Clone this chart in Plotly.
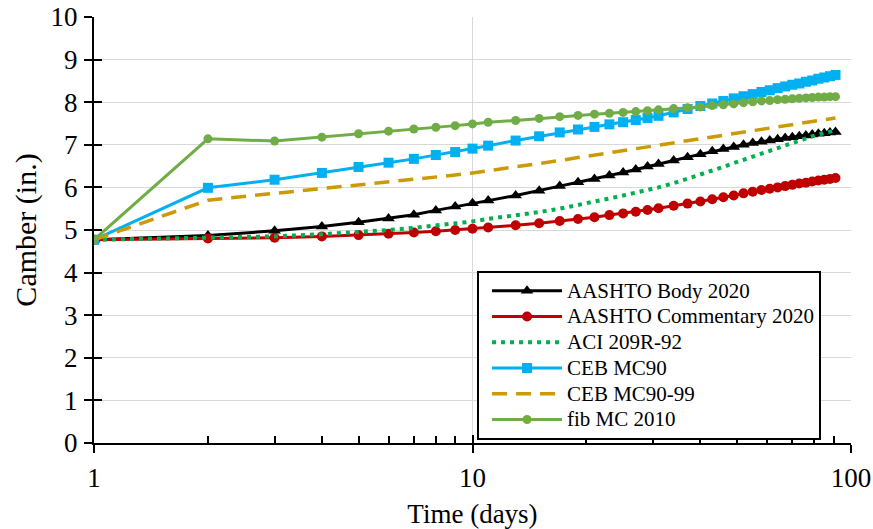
import plotly.graph_objects as go

days = [1, 2, 3, 4, 5, 6, 7, 8, 9, 10,
        11, 13, 15, 17, 19, 21, 23, 25, 27, 29, 31,
        34, 37, 40, 43, 46, 49, 52, 55, 58, 61, 64, 67, 70, 73, 76, 79, 82, 85, 88, 91]

aashto_body = [4.77, 4.87, 4.98, 5.08, 5.18, 5.27, 5.36, 5.46, 5.55, 5.63,
               5.69, 5.81, 5.92, 6.03, 6.12, 6.20, 6.28, 6.35, 6.42, 6.49, 6.55,
               6.63, 6.71, 6.78, 6.85, 6.90, 6.95, 7.00, 7.04, 7.07, 7.10, 7.13, 7.16, 7.18, 7.20, 7.22, 7.24, 7.26, 7.27, 7.29, 7.30]

aashto_comm = [4.77, 4.80, 4.82, 4.85, 4.88, 4.91, 4.94, 4.97, 5.00, 5.03,
               5.06, 5.11, 5.16, 5.21, 5.26, 5.30, 5.35, 5.39, 5.43, 5.47, 5.51,
               5.57, 5.62, 5.67, 5.72, 5.77, 5.81, 5.86, 5.90, 5.94, 5.97, 6.00, 6.03, 6.06, 6.09, 6.11, 6.14, 6.16, 6.18, 6.20, 6.22]

aci_209 = [4.77, 4.81, 4.85, 4.90, 4.95, 5.00, 5.05, 5.10, 5.15, 5.20,
           5.26, 5.34, 5.42, 5.50, 5.58, 5.66, 5.74, 5.81, 5.87, 5.94, 6.00,
           6.10, 6.20, 6.30, 6.39, 6.48, 6.57, 6.65, 6.73, 6.80, 6.87, 6.93, 6.99, 7.05, 7.10, 7.15, 7.20, 7.24, 7.28, 7.31, 7.34]

ceb_mc90 = [4.77, 5.99, 6.18, 6.34, 6.48, 6.58, 6.67, 6.76, 6.83, 6.91,
            6.98, 7.10, 7.20, 7.29, 7.36, 7.42, 7.48, 7.53, 7.58, 7.63, 7.68,
            7.76, 7.84, 7.91, 7.97, 8.03, 8.09, 8.14, 8.19, 8.24, 8.28, 8.33, 8.37, 8.41, 8.44, 8.48, 8.51, 8.55, 8.58, 8.61, 8.64]

ceb_mc90_99 = [4.77, 5.70, 5.86, 5.97, 6.05, 6.12, 6.18, 6.24, 6.29, 6.34,
               6.39, 6.48, 6.56, 6.63, 6.70, 6.76, 6.81, 6.86, 6.91, 6.95, 6.99,
               7.04, 7.09, 7.14, 7.18, 7.22, 7.26, 7.30, 7.33, 7.36, 7.39, 7.42, 7.45, 7.48, 7.50, 7.53, 7.55, 7.57, 7.59, 7.61, 7.63]

fib_mc2010 = [4.77, 7.14, 7.09, 7.18, 7.26, 7.32, 7.37, 7.41, 7.45, 7.49,
              7.53, 7.57, 7.62, 7.66, 7.69, 7.72, 7.74, 7.76, 7.78, 7.80, 7.82,
              7.85, 7.87, 7.89, 7.92, 7.94, 7.96, 7.99, 8.01, 8.03, 8.04, 8.06, 8.07, 8.08, 8.09, 8.10, 8.11, 8.12, 8.12, 8.13, 8.13]

y_ticks = list(range(0, 11))
x_ticks = [1, 10, 100]
x_tick_labels = ["1", "10", "100"]
x_minor = [2, 3, 4, 5, 6, 7, 8, 9, 20, 30, 40, 50, 60, 70, 80, 90]

FONT = "Liberation Serif"


def leg(name):
    return '<span style="font-size:21px">' + name + '</span>'


fig = go.Figure()

fig.add_trace(go.Scatter(x=days, y=aashto_body, name=leg("AASHTO Body 2020"), mode="lines+markers",
                         line=dict(color="#000000", width=3),
                         marker=dict(symbol="triangle-up", size=11, color="#000000")))
fig.add_trace(go.Scatter(x=days, y=aashto_comm, name=leg("AASHTO Commentary 2020"), mode="lines+markers",
                         line=dict(color="#C00000", width=3),
                         marker=dict(symbol="circle", size=10, color="#C00000")))
fig.add_trace(go.Scatter(x=days, y=aci_209, name=leg("ACI 209R-92"), mode="lines",
                         line=dict(color="#00B050", width=4, dash="4px,5px")))
fig.add_trace(go.Scatter(x=days, y=ceb_mc90, name=leg("CEB MC90"), mode="lines+markers",
                         line=dict(color="#00B0F0", width=3),
                         marker=dict(symbol="square", size=10, color="#00B0F0")))
fig.add_trace(go.Scatter(x=days, y=ceb_mc90_99, name=leg("CEB MC90-99"), mode="lines",
                         line=dict(color="#CC9A06", width=3.5, dash="15px,9px")))
fig.add_trace(go.Scatter(x=days, y=fib_mc2010, name=leg("fib MC 2010"), mode="lines+markers",
                         line=dict(color="#70AD47", width=3),
                         marker=dict(symbol="circle", size=9, color="#70AD47")))

# invisible trace to host the overlay axes (inward half of the crossing ticks)
fig.add_trace(go.Scatter(x=[1], y=[0], xaxis="x2", yaxis="y2", mode="markers",
                         marker=dict(opacity=0), showlegend=False, hoverinfo="skip"))

fig.update_layout(
    width=873, height=529,
    margin=dict(l=94, r=22, t=17, b=86, autoexpand=False),
    paper_bgcolor="white", plot_bgcolor="white",
    font=dict(family=FONT, size=27, color="black"),
    showlegend=True,
    legend=dict(x=0.506, y=0.404, xanchor="left", yanchor="top",
                bordercolor="black", borderwidth=2, bgcolor="white",
                font=dict(family=FONT, size=17.5, color="black"),
                itemwidth=70, indentation=8, tracegroupgap=0),
    xaxis=dict(type="log", range=[0, 2], automargin=False,
               tickmode="array", tickvals=x_ticks, ticktext=x_tick_labels,
               ticks="outside", ticklen=8, tickwidth=2, tickcolor="black",
               showline=True, linecolor="black", linewidth=2,
               showgrid=True, gridcolor="#D9D9D9", gridwidth=1,
               zeroline=False, ticklabelstandoff=2,
               title=dict(text="Time (days)", standoff=14,
                          font=dict(family=FONT, size=27))),
    yaxis=dict(range=[0, 10], tickmode="array", tickvals=y_ticks, automargin=False,
               ticks="outside", ticklen=8, tickwidth=2, tickcolor="black",
               showline=True, linecolor="black", linewidth=2,
               showgrid=True, gridcolor="#D9D9D9", gridwidth=1,
               zeroline=False, ticklabelstandoff=1,
               title=dict(text="Camber (in.)", standoff=5,
                          font=dict(family=FONT, size=30))),
    xaxis2=dict(type="log", range=[0, 2], overlaying="x", anchor="y2", side="bottom",
                tickmode="array", tickvals=x_ticks, showticklabels=False,
                ticks="inside", ticklen=8, tickwidth=2, tickcolor="black",
                minor=dict(tickmode="array", tickvals=x_minor, ticks="inside",
                           ticklen=7, tickwidth=1.5, tickcolor="black", showgrid=False),
                showline=False, showgrid=False, zeroline=False, automargin=False),
    yaxis2=dict(range=[0, 10], overlaying="y", anchor="x2", side="left",
                tickmode="array", tickvals=y_ticks, showticklabels=False,
                ticks="inside", ticklen=8, tickwidth=2, tickcolor="black",
                showline=False, showgrid=False, zeroline=False, automargin=False),
)

fig.write_html("out.html", config={"displayModeBar": False},
               post_script="document.body.style.margin='0';document.body.style.overflow='hidden';")
